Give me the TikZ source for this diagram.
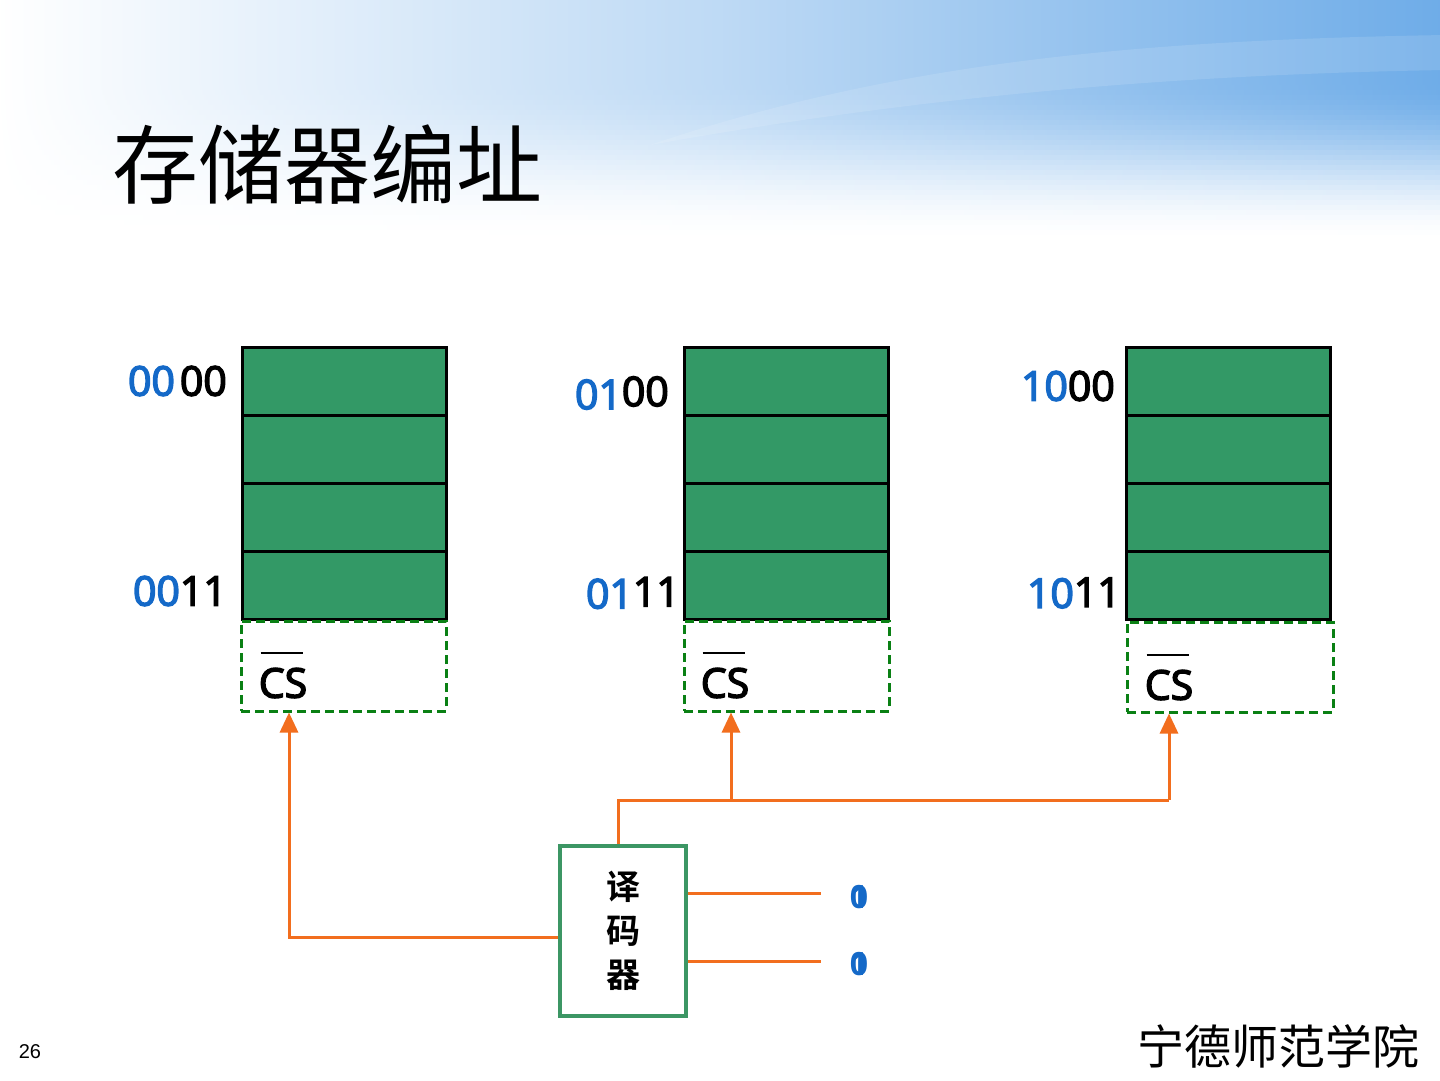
\documentclass[tikz,border=0pt]{standalone}
\usepackage{fontspec}
\setmainfont{Open Sans}[FakeBold=3.5]
\newfontfamily\bitfont{Open Sans Bold}
\newfontfamily\cjk{Noto Sans CJK SC}
\newfontfamily\cjkb{Noto Sans CJK SC Bold}
\newfontfamily\arialf{Liberation Sans}
\usetikzlibrary{arrows.meta}
\definecolor{cellgreen}{RGB}{51,153,102}
\definecolor{dashgreen}{RGB}{10,128,20}
\definecolor{boxgreen}{RGB}{60,150,100}
\definecolor{wire}{RGB}{242,110,30}
\definecolor{addr}{RGB}{20,105,200}
\definecolor{skyblue}{RGB}{110,172,232}
\begin{document}
\begin{tikzpicture}[x=1pt,y=-1pt,
  cell/.style={rectangle,draw=black,line width=3pt,fill=cellgreen,minimum width=204pt,minimum height=68pt,inner sep=0pt},
  csbox/.style={rectangle,draw=dashgreen,line width=3pt,dash pattern=on 9pt off 5pt,minimum width=205pt,minimum height=90pt,inner sep=0pt},
  cslabel/.style={inner sep=0pt,font=\fontsize{41}{42}\selectfont},
  addrlabel/.style={inner sep=0pt,anchor=east,font=\fontsize{41}{42}\selectfont},
  wireline/.style={draw=wire,line width=3pt},
  wirearrow/.style={wireline,-{Triangle[width=18pt,length=20pt]}},
  bit/.style={inner sep=0pt,text=addr,font=\bitfont\fontsize{32}{34}\selectfont}
]
\useasboundingbox (0,0) rectangle (1440,1080);
\fill[white] (-5,-5) rectangle (1445,1085);
% header background: opaque strips, blue fading downwards
\foreach \i in {0,...,49}{
  \pgfmathsetmacro\yy{-5+\i*5}
  \pgfmathsetmacro\tt{max(0,min(1,(\yy-80)/160))}
  \pgfmathsetmacro\pp{100*(1-(3*\tt*\tt-2*\tt*\tt*\tt))}
  \colorlet{rowc}{skyblue!\pp!white}
  \shade[left color=white,right color=rowc,middle color=rowc!45!white] (-5,\yy) rectangle (1445,\yy+6);
}
\fill[white,opacity=0.12] (650,145) .. controls (900,60) and (1150,40) .. (1445,35) -- (1445,70) .. controls (1150,75) and (900,100) .. (650,145) -- cycle;

% title
\node[anchor=west,inner sep=0pt] (title) at (112,165) {\cjk\fontsize{86}{90}\selectfont 存储器编址};

% memory chips
\foreach \n/\y in {1/381,2/449,3/517,4/585}{
  \node[cell] (a\n) at (344,\y) {};
  \node[cell] (b\n) at (786,\y) {};
  \node[cell] (c\n) at (1228,\y) {};
}
\node[csbox] (csa) at (343.5,666) {};
\node[csbox] (csb) at (786.5,666) {};
\node[csbox,minimum width=206pt] (csc) at (1230,667) {};

\node[cslabel] (csta) at (283,683) {CS};
\node[cslabel] (cstb) at (725,683) {CS};
\node[cslabel] (cstc) at (1169,685) {CS};
\foreach \t in {csta,cstb,cstc}{
  \draw[line width=2.5pt,shorten <=2pt,shorten >=4pt] ([yshift=15pt]\t.north west) -- ([yshift=15pt]\t.north east);
}

% address labels
\node[addrlabel] (la0) at (227,381) {{\color{addr}00}\hspace{5pt}00};
\node[addrlabel] (la3) at (227,591) {{\color{addr}00}11};
\node[addrlabel] (lb0) at (669,393) {{\color{addr}\raisebox{-3pt}{01}}00};
\node[addrlabel] (lb3) at (680,593) {{\color{addr}\raisebox{-2pt}{01}}11};
\node[addrlabel] (lc0) at (1115,386) {{\color{addr}10}00};
\node[addrlabel] (lc3) at (1121,593) {{\color{addr}\raisebox{-1pt}{10}}11};

% decoder
\node[rectangle,draw=boxgreen,line width=4pt,minimum width=126pt,minimum height=170pt,align=center,inner sep=0pt,
  font=\cjkb\fontsize{34}{44}\selectfont] (dec) at (623,931) {译\\码\\器};

% wires
\coordinate (j1) at (618,800);
\coordinate (j2) at (1169,800);
\coordinate (j3) at (731,800);
\coordinate (ja) at (289,937);
\coordinate (in1) at (821,893);
\coordinate (in2) at (821,961);
\draw[wireline] ([xshift=-5pt]dec.north) -- (j1) -- (j2);
\draw[wireline] (j2) -- ++(0,-3);
\draw[wirearrow] (j3) -- (csb.south -| j3);
\draw[wirearrow] (j2) -- (csc.south -| j2);
\draw[wirearrow] (dec.west |- ja) -- (ja) -- (csa.south -| ja);
\draw[wireline] (dec.east |- in1) -- (in1);
\draw[wireline] (dec.east |- in2) -- (in2);

% input bits (0 and 1 overlaid)
\node[bit] (b1z) at (859,897) {0};
\node[bit] (b1o) at (859,897) {1};
\node[bit] (b2z) at (859,964) {0};
\node[bit] (b2o) at (859,964) {1};

% footer
\node[inner sep=0pt] (school) at (1278,1046) {\cjk\fontsize{47}{50}\selectfont 宁德师范学院};
\node[inner sep=0pt] (page) at (30,1052) {\arialf\fontsize{20}{22}\selectfont 26};
\end{tikzpicture}
\end{document}
